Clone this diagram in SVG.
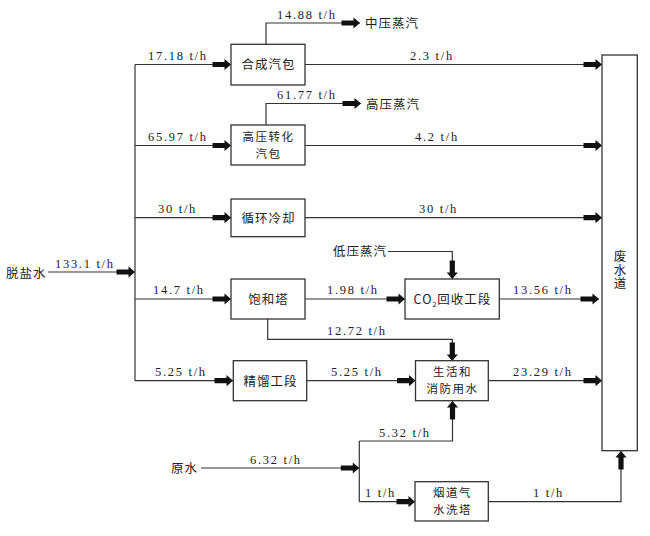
<svg xmlns="http://www.w3.org/2000/svg" width="650" height="536" viewBox="0 0 650 536">
<style>
.bg{fill:#ffffff}
.box{fill:#ffffff;stroke:#333;stroke-width:1.3}
.ln{fill:none;stroke:#333;stroke-width:1.2}
.ar{marker-end:url(#ah)}
.cn{font-family:"Noto Sans CJK SC","Noto Sans",sans-serif;font-size:12.5px;fill:#222;letter-spacing:1px}
.cn2{font-size:11.5px;letter-spacing:1.5px}
.cc{text-anchor:middle}
.num{font-family:"Liberation Serif","Noto Sans CJK SC",serif;font-size:12.5px;fill:#222;letter-spacing:1.7px}
</style>
<defs>
<marker id="ah" markerUnits="userSpaceOnUse" markerWidth="22" markerHeight="14" viewBox="-20 -7 22 14" refX="0" refY="0" orient="auto" overflow="visible">
<path d="M-18.5,-2.6 H-6.5 V-5.6 L0,0 L-6.5,5.6 V2.6 H-18.5 Z" fill="#111"/>
</marker>
</defs>
<rect class="bg" x="0" y="0" width="650" height="536"/>

<g id="connectors">
<path class="ln ar" d="M48,272 H135"/>
<path class="ln" d="M135,64.5 V380.7"/>
<path class="ln ar" d="M135,64.5 H231"/>
<path class="ln ar" d="M135,145.5 H231"/>
<path class="ln ar" d="M135,217.7 H231"/>
<path class="ln ar" d="M135,299 H231"/>
<path class="ln ar" d="M135,380.7 H233"/>
<path class="ln ar" d="M266,44 V23 H360"/>
<path class="ln ar" d="M266,125 V103.5 H361"/>
<path class="ln ar" d="M305,64.5 H602"/>
<path class="ln ar" d="M305,145.5 H602"/>
<path class="ln ar" d="M305,217.7 H602"/>
<path class="ln ar" d="M305,299 H405"/>
<path class="ln ar" d="M388,251.5 H452.3 V279"/>
<path class="ln ar" d="M499.3,299 H599"/>
<path class="ln ar" d="M267.7,319 V339.3 H452.3 V361"/>
<path class="ln ar" d="M307,380.7 H415.5"/>
<path class="ln ar" d="M488.3,380.7 H602"/>
<path class="ln ar" d="M201,468 H359.3"/>
<path class="ln" d="M359.3,441 V501.7"/>
<path class="ln ar" d="M359.3,441 H452.5 V401"/>
<path class="ln ar" d="M359.3,501.7 H415"/>
<path class="ln ar" d="M488.3,501.7 H621 V451"/>
</g>

<g id="node-hecheng">
<rect class="box" x="231" y="44.3" width="74" height="40.7"/>
<text class="cn cc" x="268.5" y="69">合成汽包</text>
</g>
<g id="node-gaoya">
<rect class="box" x="231" y="125" width="74" height="40"/>
<text class="cn cn2 cc" x="268.5" y="140.5">高压转化</text>
<text class="cn cn2 cc" x="268.5" y="157.7">汽包</text>
</g>
<g id="node-xunhuan">
<rect class="box" x="231" y="199" width="74" height="37.7"/>
<text class="cn cc" x="268.5" y="222.5">循环冷却</text>
</g>
<g id="node-baohe">
<rect class="box" x="231" y="279" width="74" height="40"/>
<text class="cn cc" x="268.5" y="303.5">饱和塔</text>
</g>
<g id="node-jingliu">
<rect class="box" x="233.3" y="360.7" width="73.4" height="40"/>
<text class="cn cc" x="270.5" y="385.5">精馏工段</text>
</g>
<g id="node-co2">
<rect class="box" x="405" y="279" width="94.3" height="40"/>
<text class="cn cc" x="452.5" y="303.5">CO<tspan font-size="7" dy="3">2</tspan><tspan dy="-3">回收工段</tspan></text>
</g>
<g id="node-shenghuo">
<rect class="box" x="415.5" y="360.7" width="72.8" height="40"/>
<text class="cn cn2 cc" x="452.5" y="376.2">生活和</text>
<text class="cn cn2 cc" x="452.5" y="393.4">消防用水</text>
</g>
<g id="node-yandao">
<rect class="box" x="415" y="481.7" width="73.3" height="39.3"/>
<text class="cn cn2 cc" x="452.5" y="497">烟道气</text>
<text class="cn cn2 cc" x="452.5" y="514.2">水洗塔</text>
</g>
<g id="node-feishui">
<rect class="box" x="602" y="55" width="35.3" height="395.7"/>
<text class="cn" x="620" y="250" writing-mode="vertical-rl" style="letter-spacing:1px">废水道</text>
</g>
<g id="node-tuoyan">
<text class="cn" x="6" y="277.5">脱盐水</text>
</g>
<g id="node-yuanshui">
<text class="cn" x="171" y="472.5">原水</text>
</g>
<g id="node-zhongya">
<text class="cn" x="365" y="27.5">中压蒸汽</text>
</g>
<g id="node-gaoyazq">
<text class="cn" x="366" y="108.5">高压蒸汽</text>
</g>
<g id="node-diya">
<text class="cn" x="333" y="256">低压蒸汽</text>
</g>

<g id="labels">
<text class="num" x="55" y="268">133.1 t/h</text>
<text class="num" x="148" y="60">17.18 t/h</text>
<text class="num" x="148" y="141">65.97 t/h</text>
<text class="num" x="158" y="212.5">30 t/h</text>
<text class="num" x="153" y="294">14.7 t/h</text>
<text class="num" x="155" y="375.5">5.25 t/h</text>
<text class="num" x="277" y="18.5">14.88 t/h</text>
<text class="num" x="277" y="99">61.77 t/h</text>
<text class="num" x="410" y="60">2.3 t/h</text>
<text class="num" x="415" y="141">4.2 t/h</text>
<text class="num" x="419" y="212.5">30 t/h</text>
<text class="num" x="327" y="294">1.98 t/h</text>
<text class="num" x="513" y="294">13.56 t/h</text>
<text class="num" x="327" y="334.5">12.72 t/h</text>
<text class="num" x="331" y="375.5">5.25 t/h</text>
<text class="num" x="513" y="375.5">23.29 t/h</text>
<text class="num" x="379" y="437">5.32 t/h</text>
<text class="num" x="250" y="463.5">6.32 t/h</text>
<text class="num" x="365" y="497">1 t/h</text>
<text class="num" x="533" y="497">1 t/h</text>
</g>
</svg>
